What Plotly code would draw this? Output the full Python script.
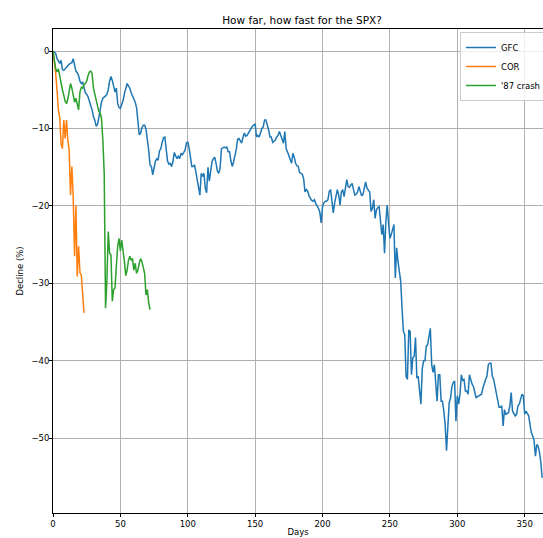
import plotly.graph_objects as go

# ---- data (decline in %, one value per trading day) ----
gfc = [
    0, -0.2, -0.3, -1.0, -1.4, -1.6, -1.2, -2.4, -2.5, -2.3,
    -2.1, -1.8, -1.7, -1.6, -1.5, -1.0, -2.0, -2.6, -2.8, -3.2,
    -3.9, -4.2, -4.0, -4.8, -5.4, -5.6, -5.9, -6.5, -7.0, -7.6,
    -8.5, -8.9, -9.7, -9.5, -8.6, -7.3, -6.6, -6.1, -6.0, -5.8,
    -5.6, -5.0, -3.9, -3.3, -3.8, -4.6, -5.3, -4.8, -6.8, -7.3,
    -7.4, -6.9, -6.4, -5.5, -4.6, -4.2, -4.5, -4.8, -5.4, -5.8,
    -6.1, -6.6, -7.3, -9.4, -10.8, -10.6, -9.9, -9.6, -9.6, -10.1,
    -11.3, -12.8, -14.7, -14.9, -16.0, -15.0, -14.2, -13.9, -14.1, -12.9,
    -12.6, -11.8, -11.2, -11.1, -12.6, -14.2, -14.6, -14.5, -14.9, -14.3,
    -13.1, -13.5, -13.9, -13.6, -13.9, -13.2, -13.4, -13.1, -12.8, -11.9,
    -11.7, -12.5, -13.8, -14.9, -14.9, -14.7, -15.6, -16.8, -17.5, -18.6,
    -15.8, -16.2, -15.8, -17.7, -18.3, -15.0, -16.8, -15.2, -14.3, -13.9,
    -13.7, -14.5, -15.5, -15.8, -15.1, -12.6, -12.5, -12.4, -12.5, -12.4,
    -13.0, -13.0, -14.2, -14.9, -14.3, -13.6, -12.7, -11.4, -11.3, -11.6,
    -11.9, -11.1, -10.6, -11.0, -10.9, -10.6, -10.2, -10.0, -9.7, -9.6,
    -9.4, -11.1, -10.9, -11.1, -10.5, -10.0, -9.8, -8.9, -8.9, -9.4,
    -10.2, -11.1, -11.1, -11.8, -11.7, -11.5, -11.1, -10.9, -10.4, -11.0,
    -11.6, -11.9, -10.4, -12.6, -13.0, -13.6, -14.0, -14.5, -13.2, -13.7,
    -14.5, -14.8, -14.9, -15.7, -15.8, -15.9, -16.5, -18.2, -17.9, -18.1,
    -18.7, -19.1, -19.3, -19.4, -19.2, -19.7, -20.0, -20.3, -20.8, -22.2,
    -20.1, -19.6, -19.4, -19.4, -19.2, -18.1, -17.9, -19.5, -20.9, -19.6,
    -18.5, -17.9, -18.6, -19.9, -18.2, -17.9, -18.8, -17.5, -16.6, -17.5,
    -17.6, -17.3, -17.1, -17.9, -18.6, -18.5, -18.2, -17.5, -18.2, -18.7,
    -18.5, -17.6, -16.9, -17.7, -17.9, -18.2, -20.7, -20.3, -19.2, -21.6,
    -20.5, -20.2, -20.1, -22.2, -23.7, -22.4, -26.1, -22.0, -19.9, -22.2,
    -24.2, -23.7, -22.8, -22.4, -29.3, -25.4, -27.2, -28.4, -29.7, -33.2,
    -36.2, -36.6, -42.0, -42.4, -36.0, -36.2, -41.8, -39.6, -39.4, -37.0,
    -42.2, -42.0, -43.9, -45.6, -41.0, -40.0, -40.0, -38.1, -37.9, -36.8,
    -35.8, -40.5, -41.5, -40.5, -43.0, -45.2, -41.8, -41.8, -45.2, -45.2,
    -46.5, -48.2, -51.6, -48.2, -45.4, -44.8, -43.3, -42.8, -42.6, -47.8,
    -44.5, -45.6, -44.3, -41.8, -42.5, -42.4, -43.9, -43.9, -44.3, -41.8,
    -42.6, -43.0, -43.3, -44.1, -44.8, -44.6, -44.5, -44.3, -44.3, -43.5,
    -42.8, -42.4, -42.0, -40.5, -40.3, -40.3, -42.0, -42.4, -43.3, -44.3,
    -45.5, -46.0, -46.0, -45.8, -48.4, -46.3, -46.9, -46.8, -46.7, -45.8,
    -44.1, -46.5, -46.9, -47.1, -46.9, -45.8, -45.6, -45.0, -44.3, -44.5,
    -46.9, -46.5, -46.9, -47.1, -48.3, -49.3, -49.7, -50.3, -52.3, -50.8,
    -51.0, -51.8, -53.1, -55.1,
]

cor = [
    0, -1.2, -2.9, -5.1, -7.6, -8.6, -12.0, -12.6, -8.9, -11.3,
    -8.9, -11.5, -12.8, -18.6, -14.9, -18.8, -26.5, -19.9, -29.1, -25.2,
    -28.6, -28.9, -31.7, -33.8,
]

crash87 = [
    0, -1.0, -2.3, -2.7, -2.3, -3.2, -4.3, -5.0, -5.7, -6.5,
    -6.8, -6.2, -5.2, -4.2, -4.8, -6.0, -6.6, -6.1, -6.8, -7.6,
    -5.3, -4.7, -4.8, -4.3, -4.2, -3.9, -3.2, -2.7, -2.6, -2.9,
    -4.8, -5.5, -6.3, -7.0, -7.8, -8.0, -8.7, -11.5, -15.8, -33.2,
    -29.6, -23.3, -26.1, -26.3, -32.3, -30.8, -30.6, -27.8, -25.2, -24.2,
    -25.8, -24.4, -25.5, -27.2, -29.0, -28.3, -27.0, -26.5, -27.0, -26.8,
    -28.3, -27.4, -28.7, -28.3, -27.4, -26.8, -27.2, -27.8, -28.7, -31.5,
    -30.8, -32.5, -33.4,
]

series_names = ["GFC", "COR", "'87 crash"]
series_colors = ["#1f77b4", "#ff7f0e", "#2ca02c"]

x_ticks = [0, 50, 100, 150, 200, 250, 300, 350]
y_ticks = [0, -10, -20, -30, -40, -50]

title_text = "How far, how fast for the SPX?"
x_label = "Days"
y_label = "Decline (%)"

# ---- figure ----
fig = go.Figure()
for name, vals, col in zip(series_names, [gfc, cor, crash87], series_colors):
    fig.add_trace(go.Scatter(
        x=list(range(len(vals))), y=vals, mode="lines", name=name,
        line=dict(color=col, width=1.5),
    ))

W, H = 543, 538
L, R, T, B = 53.3, 0, 29, 25
PW, PH = W - L - R, H - T - B

fig.update_layout(
    width=W, height=H,
    margin=dict(l=L, r=R, t=T, b=B, pad=0, autoexpand=False),
    plot_bgcolor="white", paper_bgcolor="white",
    font=dict(family="DejaVu Sans", size=8.5, color="black"),
    title=dict(text=title_text, x=302 / W, xref="container", xanchor="center",
               y=1 - 20 / H, yref="container", yanchor="middle",
               font=dict(size=10.5, color="black")),
    showlegend=True,
    legend=dict(x=(460 - L) / PW, y=1 - 3 / PH,
                xanchor="left", yanchor="top",
                bgcolor="rgba(255,255,255,0.8)", bordercolor="#cccccc",
                borderwidth=1, font=dict(size=8.5, color="black")),
)

fig.update_xaxes(
    range=[0, 363.6], tickvals=x_ticks, showgrid=True, gridcolor="#b0b0b0",
    gridwidth=0.8, zeroline=False, showline=True, linecolor="black",
    linewidth=0.8, mirror=True, ticks="outside", ticklen=3, tickwidth=0.8,
    tickcolor="black", automargin=False,
    title=dict(text=x_label, standoff=0, font=dict(size=8.5)),
)
fig.update_yaxes(
    range=[-59.64, 2.84], tickvals=y_ticks, showgrid=True, gridcolor="#b0b0b0",
    gridwidth=0.8, zeroline=False, showline=True, linecolor="black",
    linewidth=0.8, mirror=False, ticks="outside", ticklen=3, tickwidth=0.8,
    tickcolor="black", automargin=False, ticklabelstandoff=-2,
    title=dict(text=y_label, standoff=6, font=dict(size=8.5)),
)

fig.write_html(
    "out.html",
    config={"displayModeBar": False},
    post_script="document.body.style.margin='0';document.body.style.overflow='hidden';",
)
